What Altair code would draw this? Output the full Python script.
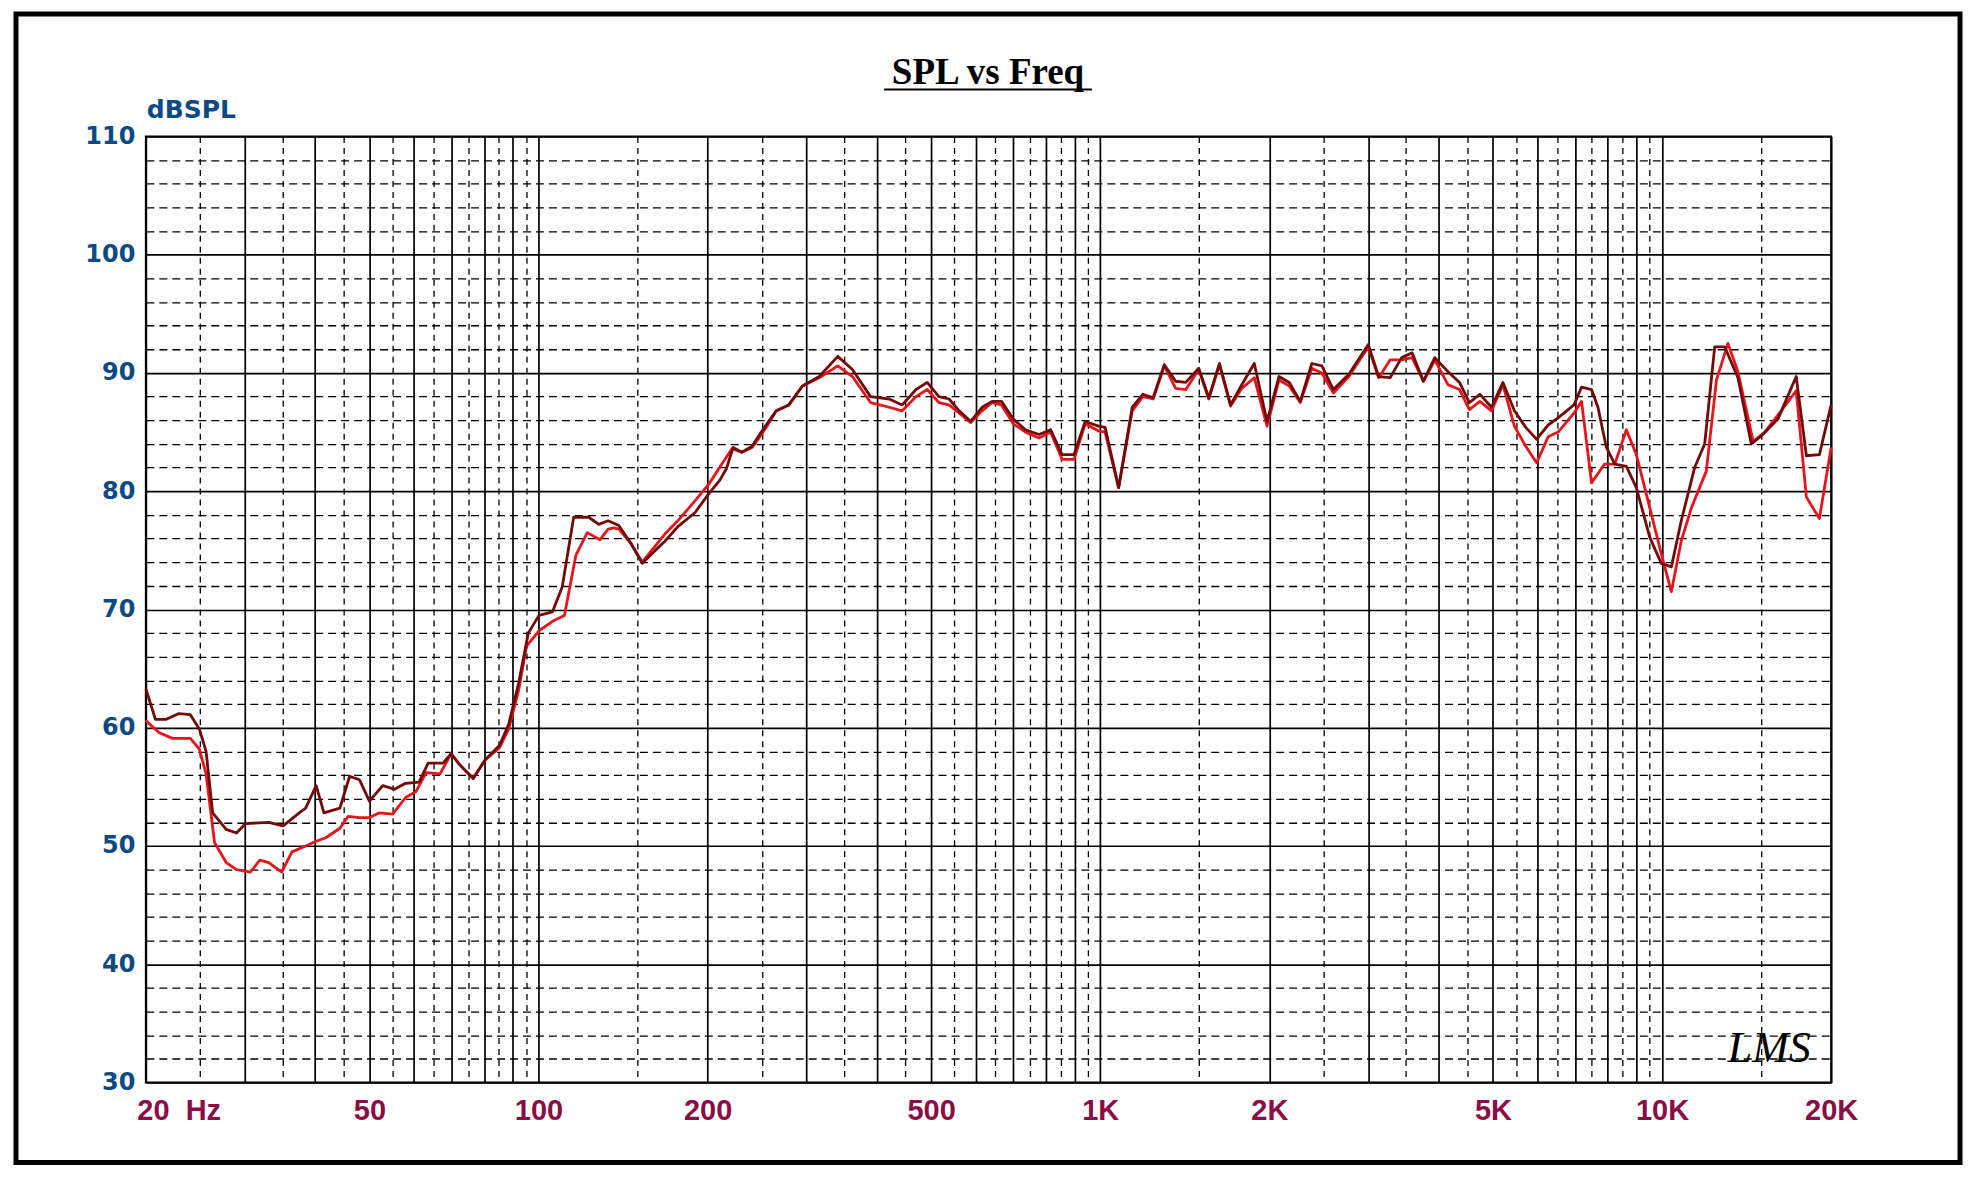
import altair as alt
import pandas as pd

# ---------------- data ----------------
freq_dark = [20, 20.8, 21.7, 22.9, 24.0, 24.9, 25.6, 26.3, 27.8, 29.0, 30.1, 33.1, 35.1, 37.5, 38.5,
             40.2, 41.5, 44.3, 46.1, 48.0, 50.0, 52.8, 55.4, 58.0, 61.3, 63.6, 67.6, 69.9, 72.3, 76.5,
             80.4, 85.2, 88.5, 92.2, 95.9, 100.2, 105.9, 110.2, 115.5, 122.9, 128, 133, 139, 146, 153,
             159, 168, 177, 190, 201, 210, 216, 222, 230, 240, 246, 255, 265, 279, 295, 316, 341, 362,
             390, 421, 444, 470, 492, 516, 538, 561, 588, 616, 642, 667, 700, 736, 778, 816, 855, 898,
             940, 993, 1020, 1078, 1140, 1190, 1242, 1300, 1362, 1420, 1497, 1560, 1630, 1706, 1786,
             1880, 1981, 2080, 2170, 2270, 2380, 2480, 2600, 2770, 3000, 3130, 3280, 3440, 3590, 3760,
             3940, 4160, 4360, 4540, 4740, 4970, 5210, 5460, 5720, 5980, 6270, 6530, 6970, 7190, 7490,
             7690, 7960, 8240, 8640, 9000, 9510, 9970, 10390, 10820, 11430, 11910, 12410, 12930, 13650,
             14420, 15030, 16080, 17330, 18070, 19060, 20000]
spl_dark = [63.3, 60.7, 60.7, 61.2, 61.1, 59.9, 58.0, 52.8, 51.4, 51.1, 51.9, 52.0, 51.7, 52.8, 53.2,
            55.1, 52.8, 53.2, 55.9, 55.6, 53.8, 55.1, 54.8, 55.3, 55.4, 57.0, 57.0, 57.8, 56.9, 55.7,
            57.3, 58.5, 60.3, 63.8, 68.0, 69.5, 69.8, 71.9, 77.8, 77.8, 77.2, 77.5, 77.1, 75.6, 73.9,
            74.7, 75.8, 77.0, 78.2, 79.8, 80.9, 81.9, 83.7, 83.3, 83.8, 84.6, 85.7, 86.8, 87.3, 88.9,
            89.7, 91.4, 90.3, 88.0, 87.8, 87.3, 88.6, 89.2, 88.0, 87.8, 86.8, 85.9, 87.1, 87.6, 87.6,
            86.1, 85.2, 84.8, 85.2, 83.1, 83.1, 85.9, 85.5, 85.4, 80.3, 87.1, 88.2, 87.9, 90.7, 89.3,
            89.2, 90.4, 87.9, 90.8, 87.3, 89.0, 90.8, 85.9, 89.7, 89.2, 87.6, 90.8, 90.6, 88.6, 89.9,
            92.4, 89.7, 89.6, 91.3, 91.7, 89.3, 91.3, 90.1, 89.2, 87.5, 88.2, 87.1, 89.2, 86.8, 85.4,
            84.4, 85.6, 86.2, 87.3, 88.8, 88.6, 87.1, 83.7, 82.3, 82.1, 80.3, 76.1, 73.9, 73.6, 77.5,
            82.0, 84.0, 92.2, 92.2, 89.6, 84.0, 84.7, 86.1, 89.7, 83.0, 83.1, 87.3]

freq_light = [20, 21.1, 22.3, 24.0, 24.9, 25.6, 26.5, 27.8, 29.0, 30.7, 31.9, 33.1, 34.9, 36.4, 38.5,
              40.2, 41.8, 44.3, 45.8, 48.0, 50.0, 52.0, 55.0, 58.0, 60.5, 63.1, 66.8, 69.9, 72.3, 76.5,
              80.4, 85.2, 88.5, 92.2, 95.2, 100.2, 105.9, 111.2, 116.6, 122.1, 128.7, 133, 136.1, 139,
              146, 153, 159, 168, 177, 190, 201, 212, 221, 230, 240, 246, 255, 265, 279, 295, 316, 341,
              362, 390, 421, 444, 470, 492, 516, 538, 561, 588, 616, 642, 667, 700, 736, 778, 816, 855,
              898, 940, 993, 1020, 1078, 1140, 1190, 1242, 1300, 1362, 1420, 1497, 1560, 1630, 1706,
              1786, 1880, 1981, 2080, 2170, 2270, 2380, 2480, 2600, 2770, 3000, 3130, 3280, 3440, 3590,
              3760, 3940, 4160, 4360, 4540, 4740, 4970, 5210, 5460, 5720, 5980, 6270, 6530, 6970, 7190,
              7490, 7900, 8240, 8640, 9000, 9440, 9970, 10390, 10820, 11280, 11990, 12500, 13100, 13650,
              14530, 15240, 16300, 17330, 18070, 19060, 20000]
spl_light = [60.6, 59.6, 59.1, 59.1, 58.2, 56.1, 50.3, 48.6, 48.0, 47.8, 48.8, 48.6, 47.8, 49.5, 50.0,
             50.4, 50.7, 51.5, 52.5, 52.4, 52.4, 52.8, 52.7, 54.1, 54.6, 56.2, 56.1, 57.8, 56.9, 55.7,
             57.3, 58.3, 59.9, 63.2, 66.9, 68.2, 69.0, 69.5, 74.6, 76.5, 75.9, 76.8, 76.9, 76.8,
             75.6, 74.0, 75.0, 76.4, 77.5, 79.2, 80.6, 82.3, 83.6, 83.3, 83.7, 84.4, 85.5, 86.8, 87.3,
             88.9, 89.6, 90.6, 89.7, 87.5, 87.1, 86.8, 88.0, 88.6, 87.5, 87.3, 86.6, 85.8, 86.8, 87.5,
             87.3, 85.7, 85.0, 84.5, 85.0, 82.7, 82.7, 85.7, 85.1, 85.0, 80.3, 86.8, 88.0, 87.8, 90.6,
             88.7, 88.6, 90.3, 87.8, 90.7, 87.2, 88.7, 89.6, 85.5, 89.4, 88.9, 87.5, 90.4, 90.0, 88.3,
             89.7, 92.2, 89.6, 91.1, 91.1, 91.3, 89.3, 91.1, 89.0, 88.6, 86.9, 87.6, 86.8, 89.0, 85.5,
             83.8, 82.4, 84.6, 85.0, 86.6, 87.6, 80.7, 82.3, 82.3, 85.2, 83.1, 79.2, 74.7, 71.5, 75.8,
             78.6, 81.7, 89.4, 92.5, 90.1, 84.2, 85.0, 86.8, 88.5, 79.5, 77.7, 83.7]

x_tick_values = [20, 50, 100, 200, 500, 1000, 2000, 5000, 10000, 20000]
x_tick_labels = ["20\u00a0\u00a0Hz", "50", "100", "200", "500", "1K", "2K", "5K", "10K", "20K"]
y_tick_values = [30, 40, 50, 60, 70, 80, 90, 100, 110]

title_text = "SPL vs Freq"
y_title_text = "dBSPL"
logo_text = "LMS"

# grid positions (log paper: solid at 1..9 x decade, dashed at half steps)
major_grid = [m * d for d in (10, 100, 1000) for m in range(1, 10) if 20 <= m * d <= 20000] + [10000, 20000]
minor_grid = [m * d + d // 2 for d in (10, 100, 1000) for m in range(1, 10) if 20 <= m * d < 20000]
minor_grid = [v for v in minor_grid if v < 20000] + [15000]
x_grid = sorted(set(major_grid + minor_grid))
y_grid = list(range(30, 111, 2))

# ---------------- styling ----------------
BLUE = "#0b4a85"
MAROON = "#8c0d45"
DARK = "#720a0a"
RED = "#e8141c"

major_test = "indexof([" + ",".join(str(v) for v in sorted(set(major_grid))) + "], datum.value) >= 0"
label_expr = "".join(
    f"datum.value == {v} ? '{t}' : " for v, t in zip(x_tick_values, x_tick_labels)
) + "''"

x_axis = alt.Axis(
    values=x_grid, labelExpr=label_expr, title=None,
    labelFont="Liberation Sans", labelFontWeight="bold", labelFontSize=29, labelColor=MAROON,
    labelPadding=14, labelFlush=False, labelOverlap=False,
    labelAlign={"condition": {"test": "datum.value == 20", "value": "left"}, "value": "center"},
    labelOffset={"condition": {"test": "datum.value == 20", "value": -9}, "value": 0},
    ticks=False, tickSize=0, domain=False,
    grid=True, gridColor="black", gridOpacity=1,
    gridDash={"condition": {"test": major_test, "value": []}, "value": [6, 5]},
    gridWidth={"condition": {"test": major_test, "value": 1.7}, "value": 1.3},
)
y_label_test = "indexof([" + ",".join(str(v) for v in y_tick_values) + "], datum.value) >= 0"
y_axis = alt.Axis(
    values=y_grid, labelExpr=f"{y_label_test} ? datum.label : ''", title=None,
    labelFont="DejaVu Sans", labelFontWeight="bold", labelFontSize=24, labelColor=BLUE,
    labelPadding=11, labelOverlap=False,
    ticks=False, tickSize=0, domain=False,
    grid=True, gridColor="black", gridOpacity=1,
    gridDash={"condition": {"test": "datum.value % 10 == 0", "value": []}, "value": [8, 5]},
    gridWidth={"condition": {"test": "datum.value % 10 == 0", "value": 1.7}, "value": 1.3},
)

xs = alt.Scale(type="log", domain=[20, 20000], nice=False)
ys = alt.Scale(domain=[30, 110], nice=False, zero=False)

df_dark = pd.DataFrame({"freq": freq_dark, "spl": spl_dark})
df_light = pd.DataFrame({"freq": freq_light, "spl": spl_light})

light = alt.Chart(df_light).mark_line(color=RED, strokeWidth=2.8, strokeJoin="round").encode(
    x=alt.X("freq:Q", scale=xs, axis=x_axis),
    y=alt.Y("spl:Q", scale=ys, axis=y_axis),
)
dark = alt.Chart(df_dark).mark_line(color=DARK, strokeWidth=2.8, strokeJoin="round").encode(
    x=alt.X("freq:Q", scale=xs, axis=x_axis),
    y=alt.Y("spl:Q", scale=ys, axis=y_axis),
)

one = pd.DataFrame({"t": [0]})
frame = alt.Chart(one).mark_rect(fillOpacity=0, stroke="black", strokeWidth=5).encode(
    x=alt.value(-130), x2=alt.value(1816), y=alt.value(-122.5), y2=alt.value(1027)
)
title = alt.Chart(pd.DataFrame({"t": [title_text]})).mark_text(
    font="Liberation Serif", fontWeight="bold", fontSize=37, align="center", baseline="alphabetic", color="black"
).encode(text="t:N", x=alt.value(843), y=alt.value(-53))
underline = alt.Chart(one).mark_rule(color="black", strokeWidth=2).encode(
    x=alt.value(739), x2=alt.value(947), y=alt.value(-47)
)
ytitle = alt.Chart(pd.DataFrame({"t": [y_title_text]})).mark_text(
    font="DejaVu Sans", fontWeight="bold", fontSize=25, align="left", baseline="alphabetic", color=BLUE
).encode(text="t:N", x=alt.value(1), y=alt.value(-18))
logo = alt.Chart(pd.DataFrame({"t": [logo_text]})).mark_text(
    font="Liberation Serif", fontStyle="italic", fontSize=44, align="center", baseline="alphabetic", color="black"
).encode(text="t:N", x=alt.value(1625), y=alt.value(926))

chart = alt.layer(frame, light, dark, title, underline, ytitle, logo).properties(
    width=1687, height=947,
    padding={"left": 138, "top": 128, "right": 140, "bottom": 92},
    autosize=alt.AutoSizeParams(type="none"),
    background="white",
).configure_view(stroke="black", strokeWidth=2)

chart.save("out.html", embed_options={"renderer": "svg", "actions": False})
